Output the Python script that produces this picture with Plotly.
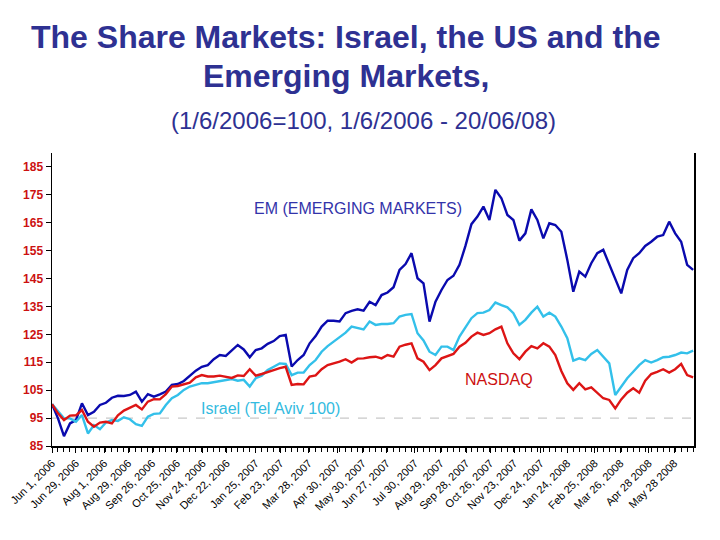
import pandas as pd
import plotly.graph_objects as go

# Weekly observations, 1 Jun 2006 -> 19 Jun 2008 (index, 1/6/2006 = 100)
dates = pd.date_range("2006-06-01", periods=108, freq="7D")

em_values = [
    100.0, 94.9, 88.5, 93.1, 94.3, 100.3, 96.1, 97.3, 99.7, 100.5,
    102.3, 103.0, 102.9, 103.3, 104.5, 100.9, 103.6, 102.7, 103.5, 104.5,
    106.9, 107.2, 108.3, 110.2, 112.0, 113.4, 114.0, 116.1, 117.6, 117.3,
    119.2, 121.2, 119.6, 116.8, 119.4, 120.0, 121.6, 122.6, 124.4, 124.8,
    113.5, 115.8, 117.6, 121.8, 124.4, 127.8, 129.9, 129.9, 129.6, 132.6,
    133.4, 134.0, 133.5, 136.7, 135.5,
    139.1, 140.0, 141.9, 148.1, 150.2, 154.1, 145.1, 143.3, 129.6, 136.7,
    140.9, 144.5, 146.0, 149.9, 156.7, 164.5, 167.2, 170.8, 166.0, 176.8,
    173.8, 167.8, 166.0, 158.6, 161.2, 169.8, 166.0, 159.4, 164.8, 164.2,
    161.8, 151.7, 140.3, 147.5, 145.7, 150.5, 154.1, 155.3, 149.9, 144.5,
    139.7, 148.1, 152.3, 154.1, 156.7, 158.2, 160.0, 160.6, 165.4, 161.2,
    158.2, 149.9, 148.1,
]

israel_values = [
    100.0, 97.3, 94.9, 94.9, 93.7, 96.1, 89.5, 92.5, 91.0, 93.4,
    94.3, 94.0, 95.3, 94.6, 92.8, 92.2, 95.5, 96.5, 96.7, 99.7,
    102.1, 103.3, 105.1, 106.3, 106.9, 107.5, 107.5, 107.9, 108.4, 108.7,
    109.0, 108.4, 108.7, 106.3, 109.3, 110.2, 112.2, 113.4, 114.6, 114.4,
    110.4, 111.3, 111.3, 114.0, 115.8, 118.8, 120.8, 122.4, 124.0, 125.6,
    127.8, 127.2, 126.8, 129.6, 128.4,
    128.7, 128.7, 129.0, 131.4, 132.0, 132.3, 125.4, 122.8, 118.8, 117.6,
    120.6, 120.6, 119.4, 124.2, 127.5, 130.8, 132.6, 132.8, 133.7, 136.4,
    135.5, 134.7, 132.6, 128.4, 130.2, 132.8, 134.9, 131.4, 132.8, 131.4,
    127.8, 123.6, 115.6, 116.4, 115.8, 118.0, 119.4, 116.8, 114.6, 103.3,
    106.5, 109.3, 111.6, 114.0, 115.8, 114.9, 115.8, 116.8, 117.0, 117.6,
    118.5, 118.2, 119.2,
]

nasdaq_values = [
    100.0, 96.7, 94.3, 95.9, 96.0, 97.9, 93.7, 91.9, 93.4, 93.7,
    93.1, 96.0, 97.7, 98.7, 99.7, 98.1, 100.9, 101.8, 101.7, 103.6,
    106.3, 106.5, 107.1, 107.7, 109.6, 110.4, 109.9, 109.9, 110.2, 109.9,
    109.4, 110.3, 110.1, 112.5, 110.2, 110.8, 111.6, 112.2, 112.9, 113.4,
    106.9, 107.2, 107.1, 109.9, 110.3, 112.5, 114.0, 114.6, 115.2, 116.1,
    114.9, 116.3, 116.4, 116.8, 117.0,
    116.4, 117.6, 117.0, 120.6, 121.3, 121.8, 116.4, 115.2, 112.2, 114.0,
    116.4, 117.3, 118.0, 120.6, 122.0, 124.2, 125.6, 124.8, 125.4, 126.8,
    127.8, 121.8, 118.2, 116.1, 118.8, 120.8, 120.0, 121.8, 120.6, 117.6,
    111.9, 107.5, 105.1, 107.5, 105.3, 106.0, 104.1, 102.1, 101.5, 98.5,
    101.7, 104.1, 105.7, 104.1, 108.4, 110.8, 111.6, 112.5, 111.3, 112.5,
    114.4, 110.4, 109.6,
]

tick_dates = [
    "2006-06-01", "2006-06-29", "2006-08-01", "2006-08-29", "2006-09-26",
    "2006-10-25", "2006-11-24", "2006-12-22", "2007-01-25", "2007-02-23",
    "2007-03-28", "2007-04-30", "2007-05-30", "2007-06-27", "2007-07-30",
    "2007-08-29", "2007-09-28", "2007-10-26", "2007-11-23", "2007-12-24",
    "2008-01-24", "2008-02-25", "2008-03-26", "2008-04-28", "2008-05-28",
]
tick_labels = [
    "Jun 1, 2006", "Jun 29, 2006", "Aug 1, 2006", "Aug 29, 2006", "Sep 26, 2006",
    "Oct 25, 2006", "Nov 24, 2006", "Dec 22, 2006", "Jan 25, 2007", "Feb 23, 2007",
    "Mar 28, 2007", "Apr 30, 2007", "May 30, 2007", "Jun 27, 2007", "Jul 30, 2007",
    "Aug 29, 2007", "Sep 28, 2007", "Oct 26, 2007", "Nov 23, 2007", "Dec 24, 2007",
    "Jan 24, 2008", "Feb 25, 2008", "Mar 26, 2008", "Apr 28 2008", "May 28 2008",
]
y_ticks = [85, 95, 105, 115, 125, 135, 145, 155, 165, 175, 185]
ref_level = 95

FONT = "Liberation Sans, Arial, sans-serif"
NAVY = "#2E3192"

fig = go.Figure()
fig.add_trace(go.Scatter(x=dates, y=em_values, mode="lines", name="EM",
                         line=dict(color="#0A0AAE", width=2.4)))
fig.add_trace(go.Scatter(x=dates, y=israel_values, mode="lines", name="Israel",
                         line=dict(color="#33C0EA", width=2.4)))
fig.add_trace(go.Scatter(x=dates, y=nasdaq_values, mode="lines", name="NASDAQ",
                         line=dict(color="#DD1515", width=2.4)))

fig.add_shape(type="line", xref="paper", x0=0, x1=1, yref="y", y0=ref_level, y1=ref_level,
              line=dict(color="#BBBBBB", width=1, dash="dash"), layer="below")

annotations = [
    dict(text="<b>The Share Markets: Israel, the US and the</b>", x=0.458, y=1.395,
         font=dict(size=32, color=NAVY, family=FONT)),
    dict(text="<b>Emerging Markets,</b>", x=0.458, y=1.262,
         font=dict(size=32, color=NAVY, family=FONT)),
    dict(text="(1/6/2006=100, 1/6/2006 - 20/06/08)", x=0.485, y=1.110,
         font=dict(size=24, color=NAVY, family=FONT)),
    dict(text="EM (EMERGING MARKETS)", x=0.4766, y=0.812,
         font=dict(size=16, color="#3333AA", family=FONT)),
    dict(text="NASDAQ", x=0.697, y=0.227,
         font=dict(size=16, color="#CC1111", family=FONT)),
    dict(text="Israel (Tel Aviv 100)", x=0.341, y=0.127,
         font=dict(size=16, color="#33BBE0", family=FONT)),
]
for a in annotations:
    fig.add_annotation(xref="paper", yref="paper", showarrow=False,
                       xanchor="center", yanchor="middle", **a)

fig.update_layout(
    width=720, height=540,
    margin=dict(l=52, r=26, t=153, b=94),
    paper_bgcolor="white", plot_bgcolor="white",
    showlegend=False,
    font=dict(family=FONT, color="black"),
)
fig.update_xaxes(
    type="date", range=["2006-06-01", "2008-06-20"], automargin=False,
    tickmode="array", tickvals=tick_dates, ticktext=tick_labels,
    tickangle=-45, tickfont=dict(size=11, color="black", family=FONT),
    ticks="outside", ticklen=5, tickcolor="black",
    minor=dict(ticks="outside", ticklen=4, tickcolor="black",
               dtick=7 * 86400000, tick0="2006-06-01", showgrid=False),
    showline=True, linecolor="black", linewidth=1.5,
    showgrid=False, zeroline=False,
)
fig.update_yaxes(
    range=[85, 190], tickmode="array", tickvals=y_ticks, automargin=False,
    tickfont=dict(size=12, color="#CC1111", family=FONT, weight="bold"),
    ticks="outside", ticklen=5, tickcolor="black",
    showline=True, linecolor="black", linewidth=1.5, mirror=True,
    showgrid=False, zeroline=False,
)

fig.write_html("out.html",
               config={"displayModeBar": False, "staticPlot": True},
               post_script="document.body.style.margin='0px';document.body.style.overflow='hidden';")
